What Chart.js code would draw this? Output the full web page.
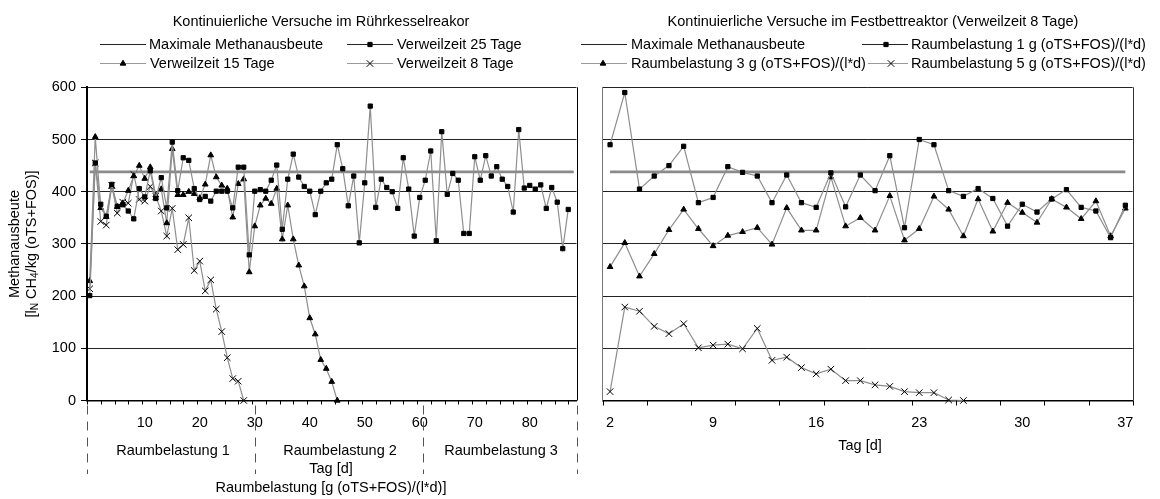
<!DOCTYPE html>
<html><head><meta charset="utf-8">
<script src="https://cdn.jsdelivr.net/npm/chart.js@4.4.1/dist/chart.umd.min.js"></script>
<style>
html,body{margin:0;padding:0;background:#fff;}
#wrap{position:relative;width:1160px;height:499px;overflow:hidden;font-family:"Liberation Sans",Arial,Helvetica,sans-serif;color:#000;}
#wrap canvas{position:absolute;left:0;top:0;}
.t{position:absolute;font-size:14.5px;line-height:1;white-space:nowrap;}
.c{transform:translate(-50%,-50%);}
.l{transform:translateY(-50%);}
.r{transform:translate(-50%,-50%) rotate(-90deg);}
sub{font-size:70%;vertical-align:-0.2em;line-height:0;}
</style></head><body>
<div id="wrap">
<canvas id="cL" width="1160" height="499"></canvas>
<canvas id="cR" width="1160" height="499"></canvas>
<div class="t c" style="left:321px;top:21px">Kontinuierliche Versuche im Rührkesselreakor</div>
<div class="t c" style="left:873px;top:21px">Kontinuierliche Versuche im Festbettreaktor (Verweilzeit 8 Tage)</div>
<div class="t l" style="left:149px;top:44px">Maximale Methanausbeute</div>
<div class="t l" style="left:397px;top:44px">Verweilzeit 25 Tage</div>
<div class="t l" style="left:150px;top:63px">Verweilzeit 15 Tage</div>
<div class="t l" style="left:397px;top:63px">Verweilzeit 8 Tage</div>
<div class="t l" style="left:631px;top:44px">Maximale Methanausbeute</div>
<div class="t l" style="left:911px;top:44px">Raumbelastung 1 g (oTS+FOS)/(l*d)</div>
<div class="t l" style="left:631px;top:63px">Raumbelastung 3 g (oTS+FOS)/(l*d)</div>
<div class="t l" style="left:911px;top:63px">Raumbelastung 5 g (oTS+FOS)/(l*d)</div>
<div class="t r" style="left:14px;top:244px">Methanausbeute</div>
<div class="t r" style="left:31px;top:244px">[l<sub>N</sub> CH<sub>4</sub>/kg (oTS+FOS)]</div>
<div class="t c" style="left:173px;top:450px">Raumbelastung 1</div>
<div class="t c" style="left:340px;top:450px">Raumbelastung 2</div>
<div class="t c" style="left:501px;top:450px">Raumbelastung 3</div>
<div class="t c" style="left:331px;top:468px">Tag [d]</div>
<div class="t c" style="left:331px;top:487px">Raumbelastung [g (oTS+FOS)/(l*d)]</div>
<div class="t c" style="left:860px;top:445px">Tag [d]</div>
</div>
<script>
// ---- data ----
const leftFirstDay = 0;
const rightFirstDay = 2;
const maxYield = 438;
const leftMaxSpan = [0, 88];
const rightMaxSpan = [2, 37];
const leftTickLabels = [10, 20, 30, 40, 50, 60, 70, 80];
const rightTickLabels = [2, 9, 16, 23, 30, 37];
const yTicks = [0, 100, 200, 300, 400, 500, 600];
const loadDividers = [-0.5, 30, 60.5, 88.5];

// Verweilzeit 25 Tage (days 0..87)
const vz25 = [201,455,376,353,414,372,375,363,348,406,390,440,387,427,369,495,402,465,460,406,
  385,391,382,401,401,401,369,447,447,279,401,404,401,422,451,328,424,472,428,410,
  401,356,401,417,424,490,444,373,430,302,417,564,370,424,408,400,368,465,405,315,
  389,422,478,306,515,395,435,422,320,320,467,422,469,430,448,424,410,361,519,407,
  412,405,413,368,408,380,291,366];
// Verweilzeit 15 Tage (days 0..45)
const vz15 = [229,505,369,352,410,371,378,402,430,450,425,447,393,405,340,482,394,394,400,396,
  388,414,470,428,412,406,351,415,424,246,334,374,387,377,406,309,374,309,259,219,
  158,127,78,61,36,0];
// Verweilzeit 8 Tage (days 0..28)
const vz8 = [214,455,343,336,412,359,380,378,433,385,382,410,391,363,315,368,289,299,350,249,
  267,210,231,175,132,82,42,37,0];
// Festbett: Raumbelastung 1 (days 2..37)
const rb1 = [490,590,405,430,450,487,379,389,448,437,430,379,432,379,370,436,371,432,402,469,
  331,500,490,402,391,406,387,334,376,361,386,404,370,363,312,374];
// Raumbelastung 3 (days 2..37)
const rb3 = [256,302,238,281,327,366,329,296,316,323,331,299,369,326,326,428,334,350,326,392,
  307,329,391,366,315,386,324,379,360,341,386,370,348,382,315,368];
// Raumbelastung 5 (days 2..26)
const rb5 = [17,179,171,142,128,147,101,106,108,99,138,77,83,63,51,60,38,38,30,27,17,15,15,1,0];

// ---- styling ----
const FONT = {family: '"Liberation Sans", Arial, Helvetica, sans-serif', size: 14.5};
const LINE_GRAY = '#8e8e8e';

function series(arr, start, style, radius) {
  return {
    data: arr.map((v, i) => ({x: start + i, y: v})),
    borderColor: LINE_GRAY, borderWidth: 1.2, tension: 0, fill: false,
    pointStyle: style, pointRadius: radius, pointHoverRadius: radius,
    pointBackgroundColor: '#000', pointBorderColor: '#000', pointBorderWidth: 1,
    clip: false, order: 1
  };
}
function maxLine(span) {
  return {
    data: span.map(d => ({x: d, y: maxYield})),
    borderColor: '#8a8a8a', borderWidth: 2.6, pointRadius: 0, fill: false, order: 2
  };
}

const decoPlugin = {
  id: 'deco',
  afterDraw(chart, args, o) {
    const ctx = chart.ctx, a = chart.chartArea, xs = chart.scales.x;
    ctx.save();
    ctx.lineWidth = 1;
    ctx.strokeStyle = o.rightColor;
    const rx = Math.round(a.right) + 0.5;
    ctx.beginPath(); ctx.moveTo(rx, a.top); ctx.lineTo(rx, a.bottom); ctx.stroke();
    ctx.strokeStyle = '#000';
    ctx.beginPath();
    o.tickVals.forEach(v => {
      const px = Math.round(xs.getPixelForValue(v)) + 0.5;
      ctx.moveTo(px, a.bottom); ctx.lineTo(px, a.bottom + o.tickLen);
    });
    ctx.stroke();
    if (o.dashVals) {
      ctx.strokeStyle = '#555';
      ctx.setLineDash([9, 7]);
      ctx.beginPath();
      o.dashVals.forEach(v => {
        const px = Math.round(xs.getPixelForValue(v)) + 0.5;
        ctx.moveTo(px, a.bottom + 5); ctx.lineTo(px, o.dashBottom);
      });
      ctx.stroke();
      ctx.setLineDash([]);
    }
    o.legend.forEach(it => {
      ctx.strokeStyle = it.color; ctx.lineWidth = it.width;
      ctx.beginPath(); ctx.moveTo(it.x1, it.y + 0.5); ctx.lineTo(it.x2, it.y + 0.5); ctx.stroke();
      if (it.style) {
        ctx.fillStyle = '#000'; ctx.strokeStyle = '#000'; ctx.lineWidth = 1;
        Chart.helpers.drawPoint(ctx, {pointStyle: it.style, radius: it.r, borderWidth: 1, rotation: 0}, it.mx, it.y + 0.5);
      }
    });
    ctx.restore();
  }
};

function makeChart(id, datasets, xOpts, yOpts, padding, deco) {
  return new Chart(document.getElementById(id), {
    type: 'line',
    data: {datasets},
    options: {
      responsive: false, animation: false, devicePixelRatio: 1,
      events: [],
      layout: {padding},
      plugins: {legend: {display: false}, title: {display: false}, tooltip: {enabled: false}, deco},
      scales: {x: xOpts, y: yOpts}
    },
    plugins: [decoPlugin]
  });
}

const yBase = {
  type: 'linear', min: 0, max: 600,
  afterBuildTicks: s => { s.ticks = yTicks.map(v => ({value: v})); },
};

// Left: Rührkesselreaktor
makeChart('cL',
  [maxLine(leftMaxSpan), series(vz25, leftFirstDay, 'rect', 3), series(vz15, leftFirstDay, 'triangle', 3.3), series(vz8, leftFirstDay, 'crossRot', 4.6)],
  {
    type: 'linear', min: -0.5, max: 88.5,
    afterBuildTicks: s => { s.ticks = leftTickLabels.map(v => ({value: v})); },
    afterFit: s => { s.height = 30; },
    grid: {display: false, drawTicks: false},
    border: {display: true, color: '#000', width: 1.5},
    ticks: {color: '#000', font: FONT, padding: 14, maxRotation: 0, autoSkip: false}
  },
  Object.assign({}, yBase, {
    afterFit: s => { s.width = 87; },
    grid: {color: '#222', lineWidth: 1, drawTicks: true, tickLength: 6, tickColor: '#000'},
    border: {color: '#000', width: 2},
    ticks: {color: '#000', font: FONT, padding: 5}
  }),
  {left: 0, right: 1160 - 576.5, top: 87.3, bottom: 499 - 400.5 - 30},
  {
    rightColor: '#000', tickLen: 4,
    tickVals: (() => { const t = []; for (let v = -0.5; v <= 88.6; v += 2.5) t.push(v); return t; })(),
    dashVals: loadDividers, dashBottom: 474,
    legend: [
      {x1: 100, x2: 146, y: 44, color: '#222', width: 1},
      {x1: 347, x2: 393, y: 44, color: '#222', width: 1, style: 'rect', r: 3, mx: 370},
      {x1: 100, x2: 146, y: 63, color: '#999', width: 1, style: 'triangle', r: 3.3, mx: 123},
      {x1: 347, x2: 393, y: 63, color: '#999', width: 1, style: 'crossRot', r: 4.6, mx: 370}
    ]
  }
);

// Right: Festbettreaktor
makeChart('cR',
  [maxLine(rightMaxSpan), series(rb1, rightFirstDay, 'rect', 3), series(rb3, rightFirstDay, 'triangle', 3.3), series(rb5, rightFirstDay, 'crossRot', 4.6)],
  {
    type: 'linear', min: 1.5, max: 37.5,
    afterBuildTicks: s => { s.ticks = rightTickLabels.map(v => ({value: v})); },
    afterFit: s => { s.height = 30; },
    grid: {display: false, drawTicks: false},
    border: {display: true, color: '#000', width: 1.5},
    ticks: {color: '#000', font: FONT, padding: 14, maxRotation: 0, autoSkip: false}
  },
  Object.assign({}, yBase, {
    afterFit: s => { s.width = 0; },
    grid: {color: '#222', lineWidth: 1, drawTicks: false},
    border: {color: '#777', width: 1},
    ticks: {display: false}
  }),
  {left: 602.7, right: 1160 - 1132.7, top: 87.3, bottom: 499 - 400.5 - 30},
  {
    rightColor: '#333', tickLen: 5,
    tickVals: (() => { const t = []; for (let v = 1.5; v <= 37.6; v += 3) t.push(v); return t; })(),
    dashVals: null,
    legend: [
      {x1: 581, x2: 627, y: 44, color: '#222', width: 1},
      {x1: 862, x2: 908, y: 44, color: '#222', width: 1, style: 'rect', r: 3, mx: 886},
      {x1: 581, x2: 627, y: 63, color: '#999', width: 1, style: 'triangle', r: 3.3, mx: 603},
      {x1: 868, x2: 908, y: 63, color: '#999', width: 1, style: 'crossRot', r: 4.6, mx: 891}
    ]
  }
);
</script>
</body></html>
